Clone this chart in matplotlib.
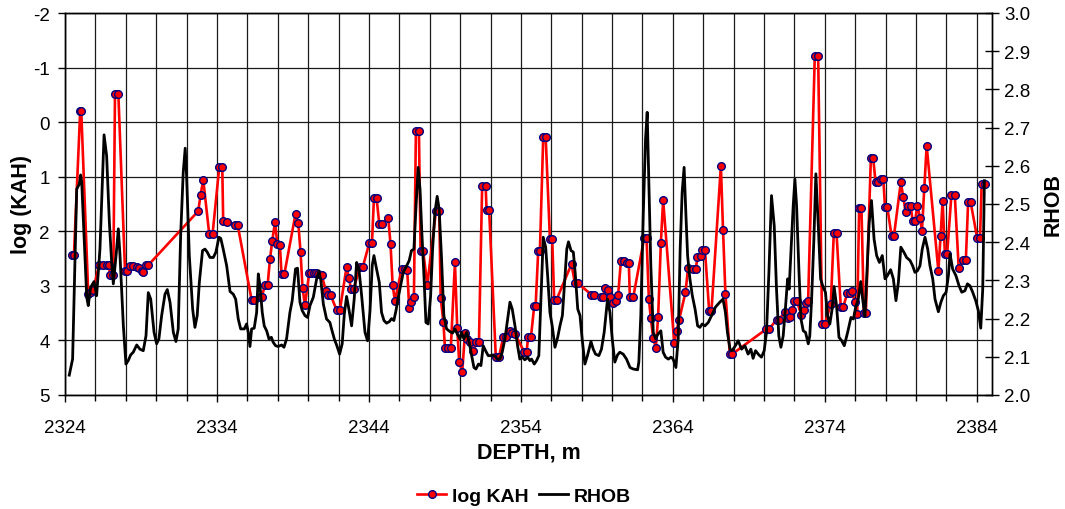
import matplotlib
matplotlib.use("Agg")
import matplotlib.pyplot as plt
from matplotlib.ticker import MultipleLocator, FixedLocator, FormatStrFormatter

plt.rcParams['font.family'] = ['Liberation Sans', 'DejaVu Sans']
plt.rcParams['axes.unicode_minus'] = False

# log KAH samples: depth (m) and value
kah_depth = [
    2324.44, 2324.59, 2325.00, 2325.07, 2325.53, 2325.69, 2325.86, 2326.24, 2326.52, 2326.74,
    2326.90, 2326.96, 2327.18, 2327.29, 2327.51, 2327.95, 2328.10, 2328.28, 2328.45, 2328.72,
    2328.89, 2329.05, 2329.15, 2329.33, 2329.48, 2332.77, 2332.92, 2333.10, 2333.49, 2333.71,
    2334.15, 2334.35, 2334.41, 2334.64, 2335.18, 2335.36, 2336.28, 2336.45, 2336.83, 2336.94,
    2337.16, 2337.33, 2337.49, 2337.64, 2337.82, 2337.97, 2338.14, 2338.25, 2338.43, 2339.17,
    2339.35, 2339.50, 2339.63, 2339.79, 2340.07, 2340.22, 2340.38, 2340.51, 2340.66, 2340.89,
    2341.17, 2341.28, 2341.48, 2341.87, 2342.09, 2342.53, 2342.68, 2342.82, 2342.99, 2343.41,
    2343.59, 2344.02, 2344.20, 2344.33, 2344.50, 2344.68, 2344.83, 2345.27, 2345.42, 2345.56,
    2345.71, 2346.15, 2346.37, 2346.52, 2346.65, 2346.80, 2346.96, 2347.09, 2347.29, 2347.40,
    2347.57, 2347.84, 2348.41, 2348.63, 2348.72, 2348.90, 2349.00, 2349.18, 2349.39, 2349.66,
    2349.81, 2349.94, 2350.14, 2350.32, 2350.47, 2350.64, 2350.86, 2351.04, 2351.24, 2351.45,
    2351.68, 2351.74, 2351.91, 2352.35, 2352.55, 2352.84, 2353.00, 2353.28, 2353.43, 2353.61,
    2354.22, 2354.37, 2354.48, 2354.66, 2354.88, 2354.97, 2355.14, 2355.25, 2355.47, 2355.63,
    2355.91, 2356.06, 2356.19, 2356.35, 2357.33, 2357.55, 2357.73, 2358.64, 2358.82, 2359.26,
    2359.41, 2359.52, 2359.70, 2359.86, 2360.07, 2360.23, 2360.40, 2360.58, 2360.78, 2360.95,
    2361.10, 2361.17, 2361.39, 2362.11, 2362.27, 2362.42, 2362.55, 2362.70, 2362.88, 2363.03,
    2363.21, 2363.36, 2364.09, 2364.24, 2364.41, 2364.83, 2365.00, 2365.33, 2365.51, 2365.62,
    2365.82, 2365.93, 2366.11, 2366.39, 2366.54, 2367.16, 2367.30, 2367.46, 2367.75, 2367.90,
    2370.16, 2370.34, 2370.82, 2370.97, 2371.37, 2371.60, 2371.71, 2371.86, 2371.99, 2372.15,
    2372.46, 2372.61, 2372.73, 2372.90, 2373.34, 2373.56, 2373.82, 2374.00, 2374.39, 2374.59,
    2374.77, 2375.05, 2375.20, 2375.49, 2375.64, 2375.80, 2375.97, 2376.13, 2376.26, 2376.41,
    2376.57, 2376.70, 2377.03, 2377.18, 2377.34, 2377.51, 2377.68, 2377.85, 2377.96, 2378.11,
    2378.39, 2378.55, 2379.00, 2379.16, 2379.32, 2379.49, 2379.65, 2379.78, 2379.93, 2380.09,
    2380.26, 2380.39, 2380.55, 2380.70, 2381.47, 2381.62, 2381.75, 2381.90, 2382.05, 2382.33,
    2382.55, 2382.81, 2383.10, 2383.28, 2383.43, 2383.59, 2384.03, 2384.21, 2384.32, 2384.54,
]
kah_value = [
    2.43, 2.43, -0.20, -0.20, 3.15, 3.12, 3.07, 2.62, 2.62, 2.62,
    2.62, 2.81, 2.81, -0.52, -0.52, 2.72, 2.72, 2.63, 2.63, 2.65,
    2.68, 2.72, 2.74, 2.62, 2.62, 1.63, 1.33, 1.06, 2.05, 2.05,
    0.83, 0.83, 1.82, 1.83, 1.88, 1.88, 3.26, 3.26, 3.20, 3.20,
    2.99, 2.99, 2.51, 2.17, 1.83, 2.23, 2.25, 2.79, 2.79, 1.68,
    1.85, 2.38, 3.04, 3.35, 2.76, 2.76, 2.76, 2.76, 2.79, 2.81,
    3.09, 3.17, 3.17, 3.44, 3.44, 2.65, 2.86, 3.05, 3.05, 2.66,
    2.66, 2.22, 2.22, 1.39, 1.39, 1.86, 1.86, 1.76, 2.23, 2.99,
    3.27, 2.70, 2.70, 2.71, 3.40, 3.30, 3.20, 0.17, 0.17, 2.37,
    2.37, 2.98, 1.63, 1.63, 3.22, 3.66, 4.13, 4.13, 4.13, 2.57,
    3.77, 4.39, 4.58, 3.86, 3.97, 4.03, 4.20, 4.03, 4.03, 1.17,
    1.17, 1.61, 1.61, 4.31, 4.31, 3.94, 3.94, 3.82, 3.87, 3.88,
    4.21, 4.21, 3.94, 3.94, 3.36, 3.36, 2.36, 2.36, 0.27, 0.27,
    2.14, 2.14, 3.25, 3.25, 2.60, 2.95, 2.95, 3.16, 3.16, 3.20,
    3.20, 3.04, 3.07, 3.20, 3.31, 3.27, 3.16, 2.55, 2.55, 2.58,
    2.58, 3.21, 3.21, 2.13, 2.13, 3.24, 3.59, 3.95, 4.14, 3.57,
    2.21, 1.43, 4.04, 3.83, 3.62, 3.12, 2.67, 2.69, 2.69, 2.47,
    2.46, 2.34, 2.34, 3.46, 3.46, 0.80, 1.97, 3.15, 4.25, 4.25,
    3.79, 3.79, 3.62, 3.62, 3.48, 3.59, 3.57, 3.45, 3.28, 3.28,
    3.53, 3.45, 3.32, 3.27, -1.22, -1.22, 3.70, 3.70, 3.34, 2.04,
    2.04, 3.39, 3.39, 3.13, 3.13, 3.10, 3.30, 3.51, 1.57, 1.57,
    3.50, 3.50, 0.66, 0.66, 1.10, 1.10, 1.04, 1.04, 1.56, 1.56,
    2.08, 2.08, 1.10, 1.38, 1.65, 1.53, 1.53, 1.82, 1.82, 1.53,
    1.75, 1.99, 1.20, 0.43, 2.72, 2.08, 1.44, 2.41, 2.41, 1.33,
    1.33, 2.68, 2.52, 2.52, 1.46, 1.46, 2.13, 2.13, 1.14, 1.14,
]

# RHOB bulk density log: depth (m) and density (g/cc)
rhob_depth = [
    2324.28, 2324.50, 2324.77, 2324.94, 2325.03, 2325.10, 2325.43, 2325.53, 2325.69, 2325.91,
    2326.08, 2326.30, 2326.57, 2326.74, 2326.92, 2327.07, 2327.18, 2327.36, 2327.51, 2327.62,
    2327.84, 2328.01, 2328.16, 2328.32, 2328.49, 2328.72, 2328.93, 2329.15, 2329.33, 2329.48,
    2329.64, 2329.86, 2330.03, 2330.18, 2330.36, 2330.58, 2330.73, 2330.91, 2331.13, 2331.30,
    2331.45, 2331.61, 2331.78, 2331.91, 2332.00, 2332.18, 2332.40, 2332.55, 2332.70, 2332.84,
    2333.05, 2333.21, 2333.36, 2333.54, 2333.76, 2333.93, 2334.13, 2334.25, 2334.41, 2334.64,
    2334.86, 2335.07, 2335.23, 2335.40, 2335.56, 2335.80, 2335.95, 2336.06, 2336.17, 2336.28,
    2336.45, 2336.61, 2336.72, 2336.83, 2336.98, 2337.11, 2337.27, 2337.42, 2337.58, 2337.70,
    2337.86, 2338.03, 2338.25, 2338.41, 2338.58, 2338.80, 2338.95, 2339.17, 2339.30, 2339.46,
    2339.61, 2339.79, 2339.96, 2340.12, 2340.34, 2340.56, 2340.71, 2340.84, 2341.00, 2341.21,
    2341.43, 2341.54, 2341.72, 2341.89, 2342.07, 2342.24, 2342.38, 2342.53, 2342.68, 2342.86,
    2343.03, 2343.19, 2343.34, 2343.52, 2343.74, 2343.91, 2344.07, 2344.22, 2344.33, 2344.50,
    2344.68, 2344.83, 2344.99, 2345.16, 2345.34, 2345.49, 2345.64, 2345.78, 2345.93, 2346.15,
    2346.26, 2346.48, 2346.65, 2346.80, 2346.96, 2347.09, 2347.24, 2347.36, 2347.47, 2347.62,
    2347.75, 2347.90, 2348.06, 2348.19, 2348.34, 2348.49, 2348.62, 2348.78, 2348.93, 2349.11,
    2349.33, 2349.50, 2349.66, 2349.81, 2349.99, 2350.09, 2350.25, 2350.43, 2350.60, 2350.76,
    2350.91, 2351.04, 2351.21, 2351.37, 2351.52, 2351.70, 2351.85, 2352.00, 2352.18, 2352.35,
    2352.50, 2352.62, 2352.77, 2352.95, 2353.13, 2353.28, 2353.43, 2353.61, 2353.78, 2353.93,
    2354.09, 2354.26, 2354.44, 2354.59, 2354.70, 2354.88, 2355.03, 2355.18, 2355.32, 2355.47,
    2355.63, 2355.76, 2355.91, 2356.06, 2356.24, 2356.42, 2356.57, 2356.73, 2356.86, 2357.02,
    2357.13, 2357.30, 2357.45, 2357.57, 2357.74, 2357.89, 2358.03, 2358.21, 2358.38, 2358.61,
    2358.76, 2358.91, 2359.13, 2359.30, 2359.48, 2359.70, 2359.86, 2360.01, 2360.18, 2360.36,
    2360.51, 2360.73, 2360.95, 2361.18, 2361.39, 2361.68, 2361.76, 2361.89, 2362.05, 2362.20,
    2362.31, 2362.42, 2362.55, 2362.71, 2362.86, 2363.03, 2363.21, 2363.36, 2363.52, 2363.70,
    2363.88, 2364.02, 2364.20, 2364.35, 2364.48, 2364.61, 2364.74, 2364.86, 2364.97, 2365.12,
    2365.28, 2365.46, 2365.63, 2365.78, 2365.93, 2366.11, 2366.33, 2366.55, 2366.80, 2367.09,
    2367.30, 2367.46, 2367.59, 2367.76, 2367.90, 2368.08, 2368.30, 2368.52, 2368.74, 2368.95,
    2369.13, 2369.28, 2369.44, 2369.66, 2369.83, 2370.01, 2370.16, 2370.32, 2370.49, 2370.67,
    2370.82, 2370.97, 2371.11, 2371.26, 2371.42, 2371.55, 2371.65, 2371.77, 2371.92, 2372.03,
    2372.14, 2372.30, 2372.43, 2372.58, 2372.73, 2372.91, 2373.01, 2373.13, 2373.28, 2373.41,
    2373.57, 2373.72, 2373.89, 2374.04, 2374.18, 2374.33, 2374.48, 2374.61, 2374.77, 2374.93,
    2375.11, 2375.28, 2375.50, 2375.72, 2375.88, 2376.03, 2376.20, 2376.36, 2376.49, 2376.64,
    2376.78, 2376.92, 2377.07, 2377.24, 2377.41, 2377.59, 2377.78, 2377.96, 2378.11, 2378.33,
    2378.51, 2378.68, 2378.84, 2379.00, 2379.20, 2379.38, 2379.61, 2379.78, 2379.93, 2380.09,
    2380.26, 2380.41, 2380.59, 2380.77, 2380.92, 2381.10, 2381.25, 2381.47, 2381.64, 2381.80,
    2381.98, 2382.13, 2382.24, 2382.41, 2382.63, 2382.83, 2383.01, 2383.22, 2383.38, 2383.55,
    2383.73, 2383.93, 2384.10, 2384.26, 2384.39, 2384.50,
]
rhob_value = [
    2.052, 2.094, 2.539, 2.552, 2.576, 2.557, 2.256, 2.234, 2.282, 2.297,
    2.260, 2.382, 2.681, 2.626, 2.452, 2.347, 2.291, 2.365, 2.435, 2.365,
    2.181, 2.081, 2.090, 2.105, 2.112, 2.131, 2.120, 2.116, 2.155, 2.268,
    2.251, 2.164, 2.134, 2.147, 2.208, 2.264, 2.276, 2.243, 2.164, 2.140,
    2.173, 2.417, 2.583, 2.646, 2.575, 2.365, 2.225, 2.177, 2.208, 2.295,
    2.378, 2.382, 2.374, 2.360, 2.360, 2.374, 2.413, 2.410, 2.382, 2.338,
    2.271, 2.264, 2.251, 2.199, 2.173, 2.173, 2.186, 2.164, 2.127, 2.173,
    2.175, 2.216, 2.317, 2.286, 2.216, 2.181, 2.168, 2.147, 2.151, 2.138,
    2.129, 2.127, 2.131, 2.125, 2.147, 2.216, 2.247, 2.330, 2.332, 2.243,
    2.221, 2.208, 2.203, 2.234, 2.256, 2.304, 2.325, 2.299, 2.238, 2.199,
    2.190, 2.173, 2.147, 2.129, 2.107, 2.134, 2.212, 2.258, 2.225, 2.181,
    2.251, 2.347, 2.330, 2.260, 2.164, 2.142, 2.220, 2.340, 2.365, 2.330,
    2.295, 2.216, 2.195, 2.188, 2.192, 2.200, 2.195, 2.221, 2.256, 2.300,
    2.321, 2.338, 2.352, 2.378, 2.382, 2.487, 2.596, 2.539, 2.435, 2.312,
    2.190, 2.186, 2.260, 2.382, 2.478, 2.520, 2.487, 2.356, 2.208, 2.173,
    2.166, 2.162, 2.173, 2.160, 2.147, 2.164, 2.147, 2.164, 2.138, 2.103,
    2.072, 2.068, 2.081, 2.077, 2.129, 2.114, 2.103, 2.103, 2.105, 2.099,
    2.094, 2.094, 2.112, 2.147, 2.199, 2.243, 2.225, 2.181, 2.129, 2.094,
    2.099, 2.092, 2.099, 2.090, 2.094, 2.081, 2.090, 2.103, 2.251, 2.413,
    2.387, 2.312, 2.216, 2.181, 2.125, 2.151, 2.181, 2.208, 2.286, 2.382,
    2.401, 2.378, 2.374, 2.321, 2.225, 2.208, 2.147, 2.081, 2.103, 2.140,
    2.120, 2.107, 2.103, 2.120, 2.164, 2.251, 2.216, 2.147, 2.086, 2.105,
    2.112, 2.107, 2.094, 2.072, 2.068, 2.066, 2.086, 2.208, 2.470, 2.670,
    2.740, 2.557, 2.338, 2.164, 2.147, 2.160, 2.168, 2.112, 2.099, 2.094,
    2.099, 2.094, 2.072, 2.147, 2.382, 2.530, 2.596, 2.470, 2.365, 2.304,
    2.260, 2.225, 2.181, 2.177, 2.186, 2.181, 2.190, 2.208, 2.230, 2.243,
    2.251, 2.216, 2.164, 2.120, 2.116, 2.127, 2.142, 2.120, 2.129, 2.107,
    2.120, 2.096, 2.116, 2.105, 2.099, 2.116, 2.164, 2.321, 2.522, 2.443,
    2.277, 2.155, 2.125, 2.155, 2.234, 2.304, 2.277, 2.374, 2.496, 2.565,
    2.496, 2.321, 2.199, 2.168, 2.164, 2.134, 2.155, 2.251, 2.408, 2.579,
    2.443, 2.304, 2.282, 2.269, 2.208, 2.186, 2.225, 2.284, 2.234, 2.151,
    2.142, 2.129, 2.164, 2.203, 2.199, 2.230, 2.251, 2.297, 2.250, 2.206,
    2.330, 2.452, 2.509, 2.408, 2.365, 2.347, 2.365, 2.304, 2.312, 2.328,
    2.304, 2.247, 2.295, 2.387, 2.374, 2.360, 2.352, 2.338, 2.321, 2.325,
    2.338, 2.382, 2.413, 2.382, 2.338, 2.304, 2.251, 2.218, 2.243, 2.260,
    2.269, 2.312, 2.369, 2.330, 2.312, 2.286, 2.269, 2.273, 2.291, 2.286,
    2.269, 2.247, 2.221, 2.175, 2.277, 2.561,
]

depth_ticks = [2324, 2334, 2344, 2354, 2364, 2374, 2384]
kah_ticks = [-2, -1, 0, 1, 2, 3, 4, 5]
rhob_ticks = [2.0, 2.1, 2.2, 2.3, 2.4, 2.5, 2.6, 2.7, 2.8, 2.9, 3.0]

fig = plt.figure(figsize=(10.65, 5.10), dpi=100)
ax = fig.add_axes([65 / 1065, 1 - 396 / 510, 927 / 1065, 382 / 510])
ax2 = ax.twinx()

# grid: every 2 m in depth, every unit of log KAH
ax.set_xlim(2324, 2385)
ax.set_ylim(5, -2)
ax.xaxis.set_major_locator(FixedLocator(depth_ticks))
ax.xaxis.set_minor_locator(MultipleLocator(2))
ax.yaxis.set_major_locator(FixedLocator(kah_ticks))
ax.grid(which='both', axis='x', color='#1a1a1a', linewidth=0.9)
ax.grid(which='major', axis='y', color='#1a1a1a', linewidth=0.9)
ax.set_axisbelow(True)

ln1, = ax.plot(kah_depth, kah_value, color='#ff0000', linewidth=1.9,
               marker='o', markersize=5.5, markerfacecolor='#ff0000',
               markeredgecolor='#000080', markeredgewidth=1.0, label='log KAH',
               zorder=3)

ax2.set_ylim(2.0, 3.0)
ax2.yaxis.set_major_locator(FixedLocator(rhob_ticks))
ax2.yaxis.set_major_formatter(FormatStrFormatter('%.1f'))
ln2, = ax2.plot(rhob_depth, rhob_value, color='black', linewidth=2.0, label='RHOB',
                zorder=2)

for a in (ax, ax2):
    for s in a.spines.values():
        s.set_color('black')
        s.set_linewidth(1.0)

ax.tick_params(axis='x', which='major', direction='out', length=5, width=1,
               labelsize=13.5, pad=12)
ax.tick_params(axis='x', which='minor', direction='out', length=4, width=1)
ax.tick_params(axis='y', direction='out', length=5, width=1, labelsize=13.5, pad=6)
ax2.tick_params(axis='y', direction='inout', length=10, width=1, labelsize=13.5, pad=4)

ax.set_xlabel('DEPTH, m', fontsize=15.5, fontweight='bold')
ax.xaxis.set_label_coords(0.5, -0.122)
ax.xaxis.label.set_verticalalignment('top')
ax.set_ylabel('log (KAH)', fontsize=15.5, fontweight='bold')
ax.yaxis.set_label_coords(-0.0464, 0.5)
ax.yaxis.label.set_verticalalignment('center')
ax2.set_ylabel('RHOB', fontsize=15.5, fontweight='bold')
ax2.yaxis.set_label_coords(1.0658, 0.5)
ax2.yaxis.label.set_verticalalignment('center')

fig.legend(handles=[ln1, ln2], labels=['log KAH', 'RHOB'], loc='center',
           bbox_to_anchor=(524 / 1065, 1 - 497 / 510), ncol=2, frameon=False,
           prop={'size': 14, 'weight': 'bold'}, handlelength=1.5,
           handletextpad=0.3, columnspacing=0.5)

fig.savefig('out.png', dpi=100)
